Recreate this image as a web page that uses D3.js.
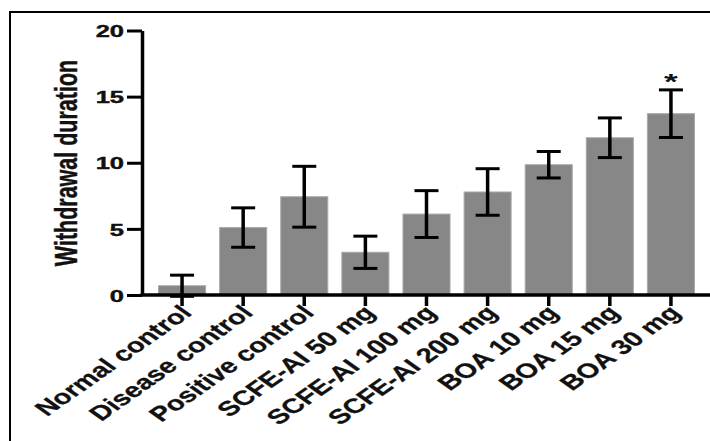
<!DOCTYPE html>
<html>
<head>
<meta charset="utf-8">
<script src="https://cdn.jsdelivr.net/npm/d3@7"></script>
<style>
  body { margin: 0; background: #fff; }
  svg { display: block; }
  text { font-family: Arial, "Liberation Sans", sans-serif; font-weight: bold; fill: #111; }
</style>
</head>
<body>
<svg id="chart" width="710" height="441"></svg>
<script>
const groups = ["Normal control", "Disease control", "Positive control", "SCFE-AI 50 mg",
    "SCFE-AI 100 mg", "SCFE-AI 200 mg", "BOA 10 mg", "BOA 15 mg", "BOA 30 mg"];
const means = [0.7, 5.1, 7.43, 3.23, 6.12, 7.79, 9.85, 11.89, 13.71];
const errors = [0.8, 1.49, 2.3, 1.22, 1.77, 1.76, 1.0, 1.5, 1.8];
const signif = ["", "", "", "", "", "", "", "", "*"];
const yTicks = [0, 5, 10, 15, 20];
const yTitle = "Withdrawal duration";

const svg = d3.select("#chart");

// outer frame (cut off on the right and bottom in the original)
svg.append("rect")
    .attr("x", 10).attr("y", 12)
    .attr("width", 740).attr("height", 460)
    .attr("fill", "none").attr("stroke", "#000").attr("stroke-width", 2);

const axisX = 142;
const y = d3.scaleLinear().domain([0, 20]).range([295, 30.5]);
const x = d3.scaleBand()
    .domain(groups)
    .range([151.5, 701.5])
    .paddingInner(0.23)
    .paddingOuter(0.115);

const data = groups.map((g, i) => ({ g, m: means[i], e: errors[i], s: signif[i] }));

// bars
svg.append("g").selectAll("rect")
    .data(data)
    .enter().append("rect")
    .attr("x", d => x(d.g))
    .attr("y", d => y(d.m))
    .attr("width", x.bandwidth())
    .attr("height", d => y(0) - y(d.m))
    .attr("fill", "#878787")
    .attr("stroke", "#a9a9a9")
    .attr("stroke-width", 1);

// error bars
const capW = 24;
const eb = svg.append("g").selectAll("g")
    .data(data)
    .enter().append("g")
    .attr("transform", d => `translate(${x(d.g) + x.bandwidth() / 2},0)`);

eb.append("line")
    .attr("y1", d => y(d.m + d.e))
    .attr("y2", d => y(d.m - d.e))
    .attr("stroke", "#000").attr("stroke-width", 3.5);

eb.selectAll(".cap")
    .data(d => [d.m + d.e, d.m - d.e])
    .enter().append("line")
    .attr("class", "cap")
    .attr("x1", -capW / 2).attr("x2", capW / 2)
    .attr("y1", v => y(v)).attr("y2", v => y(v))
    .attr("stroke", "#000").attr("stroke-width", 3);

// significance marks
eb.filter(d => d.s)
    .append("text")
    .attr("transform", d => `translate(0,${y(d.m + d.e) - 0.5}) scale(1.6,1)`)
    .attr("text-anchor", "middle")
    .attr("font-size", 22)
    .text(d => d.s);

// y axis
const yAxis = svg.append("g")
    .attr("transform", `translate(${axisX},0)`)
    .call(d3.axisLeft(y).tickValues(yTicks).tickSize(15).tickSizeOuter(0).tickPadding(3));

yAxis.select(".domain").attr("stroke", "#000").attr("stroke-width", 3.5);
yAxis.selectAll(".tick line").attr("stroke", "#000").attr("stroke-width", 3);
yAxis.selectAll(".tick text")
    .attr("x", null)
    .attr("dy", "0.36em")
    .attr("transform", "translate(-18,0) scale(1.5,1)")
    .attr("font-size", 17)
    .attr("font-family", null)
    .attr("stroke", "#111").attr("stroke-width", 0.4)
    .attr("fill", "#111");

// x axis line runs past the right edge
svg.append("line")
    .attr("x1", axisX - 1.5).attr("x2", 720)
    .attr("y1", y(0)).attr("y2", y(0))
    .attr("stroke", "#000").attr("stroke-width", 3.5);

const xAxis = svg.append("g")
    .attr("transform", `translate(0,${y(0)})`)
    .call(d3.axisBottom(x).tickSize(11).tickSizeOuter(0));

xAxis.select(".domain").remove();
xAxis.selectAll(".tick line").attr("stroke", "#000").attr("stroke-width", 3.5);
xAxis.selectAll(".tick text")
    .attr("y", null).attr("dy", "0.35em")
    .attr("transform", "translate(4,14) scale(1.42,1) rotate(-45)")
    .attr("text-anchor", "end")
    .attr("font-size", 20.5)
    .attr("font-family", null)
    .attr("stroke", "#111").attr("stroke-width", 0.3)
    .attr("fill", "#111");

// y axis title
svg.append("text")
    .attr("transform", "translate(77,163) scale(1.45,1) rotate(-90)")
    .attr("text-anchor", "middle")
    .attr("font-size", 21.5)
    .attr("stroke", "#111").attr("stroke-width", 0.3)
    .text(yTitle);
</script>
</body>
</html>
